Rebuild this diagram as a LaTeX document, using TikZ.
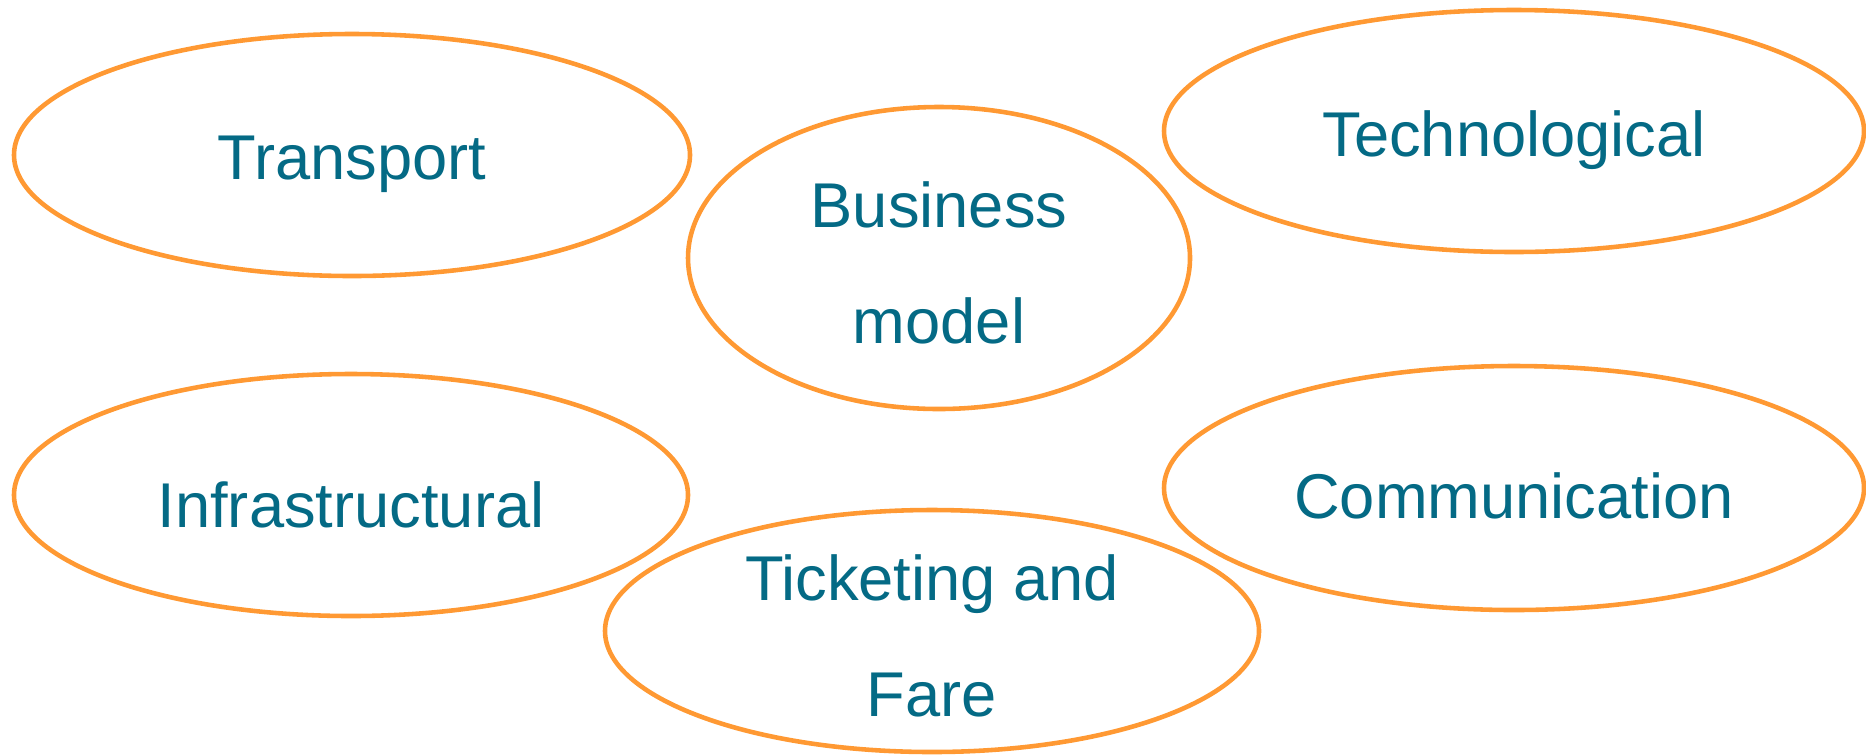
\documentclass[tikz,border=0pt]{standalone}
\usepackage{fontspec}
\setmainfont{Liberation Sans}
\usepackage{tikz}
\usepackage{xcolor}
\usetikzlibrary{shapes.geometric}
\definecolor{bubbleorange}{HTML}{FF9933}
\definecolor{bubbletext}{HTML}{046A85}

\begin{document}
\begin{tikzpicture}[font=\fontsize{18}{33}\selectfont,bubble/.style={ellipse,draw=bubbleorange,line width=1.3pt,inner sep=0pt},caption/.style={text=bubbletext,inner sep=0pt},every text node part/.style={align=center}]
	\useasboundingbox (0,0) rectangle (18.66,7.55);

	\node[bubble,minimum width=6.76cm,minimum height=2.42cm] (transport) at (3.52,6.00) {};
	\node[bubble,minimum width=5.02cm,minimum height=3.02cm] (business) at (9.39,4.97) {};
	\node[bubble,minimum width=7.00cm,minimum height=2.42cm] (techno) at (15.14,6.24) {};
	\node[bubble,minimum width=6.74cm,minimum height=2.42cm] (infra) at (3.51,2.60) {};
	\node[bubble,minimum width=6.54cm,minimum height=2.42cm] (ticket) at (9.32,1.24) {};
	\node[bubble,minimum width=7.00cm,minimum height=2.44cm] (comm) at (15.14,2.67) {};

	\node[caption] (transportlbl) at ([yshift=-0.095cm]transport.center) {Transport};
	\node[caption] (businesslbl) at ([yshift=-0.05cm]business.center) {Business\\model};
	\node[caption] (technolbl) at ([yshift=-0.095cm]techno.center) {Technological};
	\node[caption] (infralbl) at ([yshift=-0.095cm]infra.center) {Infrastructural};
	\node[caption] (ticketlbl) at ([yshift=-0.05cm]ticket.center) {Ticketing and\\Fare};
	\node[caption] (commlbl) at ([yshift=-0.08cm]comm.center) {Communication};
\end{tikzpicture}
\end{document}
